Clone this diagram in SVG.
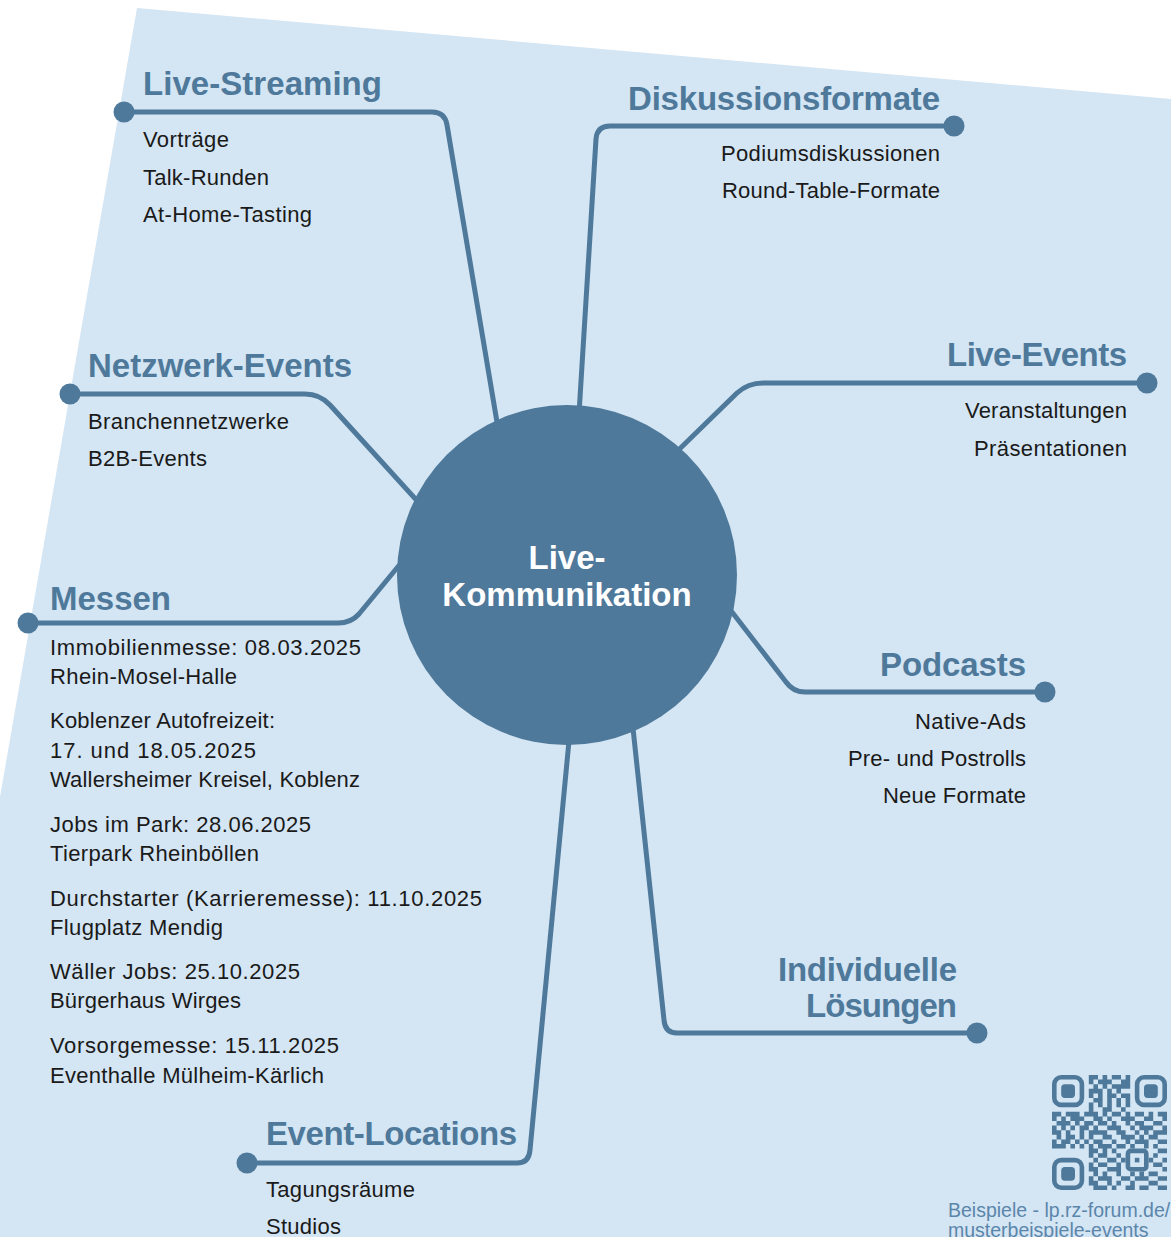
<svg xmlns="http://www.w3.org/2000/svg" width="1171" height="1237" viewBox="0 0 1171 1237">
<style>
.bg{fill:#d4e5f3}
.con{fill:none;stroke:#4e799b;stroke-width:5;stroke-linecap:round;stroke-linejoin:round}
.dot{fill:#4e799b}
.h{font-family:"Liberation Sans",Arial,sans-serif;font-weight:bold;font-size:33px;fill:#4e799b}
.t{font-family:"Liberation Sans",Arial,sans-serif;font-size:22px;fill:#1a1a1a}
.c{font-family:"Liberation Sans",Arial,sans-serif;font-weight:bold;font-size:33px;fill:#ffffff;text-anchor:middle}
.cap{font-family:"Liberation Sans",Arial,sans-serif;font-size:19.5px;fill:#5b86ab}
.qr{fill:#4e799b}
.qrs{fill:none;stroke:#4e799b;stroke-width:1}
</style>
<rect width="1171" height="1237" fill="#ffffff"/>
<path class="bg" d="M137,8 L1171,99 L1171,1237 L0,1237 L0,797 Z"/>
<g id="connectors">
<path class="con" d="M124,112 H432 Q445,112 447,125 L500,440"/>
<path class="con" d="M954,126 H610 Q597,126 596,139 L578,430"/>
<path class="con" d="M1147,383 H763 Q748,383 737,393 L660,468"/>
<path class="con" d="M70,394 H305 Q320,394 330,405 L430,515"/>
<path class="con" d="M28,623 H338 Q351,623 359,614 L420,540"/>
<path class="con" d="M1045,692 H805 Q793,692 786,682 L715,590"/>
<path class="con" d="M977,1033 H677 Q665,1033 664,1020 L630,700"/>
<path class="con" d="M247,1163 H517 Q529,1163 530,1150 L571,720"/>
<circle class="dot" cx="124" cy="112" r="10.5"/>
<circle class="dot" cx="954" cy="126" r="10.5"/>
<circle class="dot" cx="1147" cy="383" r="10.5"/>
<circle class="dot" cx="70" cy="394" r="10.5"/>
<circle class="dot" cx="28" cy="623" r="10.5"/>
<circle class="dot" cx="1045" cy="692" r="10.5"/>
<circle class="dot" cx="977" cy="1033" r="10.5"/>
<circle class="dot" cx="247" cy="1163" r="10.5"/>
</g>
<g id="center">
<circle cx="567" cy="575" r="170" fill="#4e799b"/>
<text class="c" x="567" y="569">Live-</text>
<text class="c" x="567" y="606">Kommunikation</text>
</g>
<g id="live-streaming">
<text class="h" x="143" y="95" textLength="239">Live-Streaming</text>
<text class="t" x="143" y="147" textLength="86">Vorträge</text>
<text class="t" x="143" y="185" textLength="126">Talk-Runden</text>
<text class="t" x="143" y="222" textLength="169">At-Home-Tasting</text>
</g>
<g id="diskussionsformate">
<text class="h" x="628" y="110" textLength="312">Diskussionsformate</text>
<text class="t" x="721" y="161" textLength="219">Podiumsdiskussionen</text>
<text class="t" x="722" y="198" textLength="218">Round-Table-Formate</text>
</g>
<g id="live-events">
<text class="h" x="947" y="366" textLength="180">Live-Events</text>
<text class="t" x="965" y="418" textLength="162">Veranstaltungen</text>
<text class="t" x="974" y="456" textLength="153">Präsentationen</text>
</g>
<g id="netzwerk-events">
<text class="h" x="88" y="377" textLength="264">Netzwerk-Events</text>
<text class="t" x="88" y="429" textLength="201">Branchennetzwerke</text>
<text class="t" x="88" y="466" textLength="119">B2B-Events</text>
</g>
<g id="messen">
<text class="h" x="50" y="610" textLength="121">Messen</text>
<text class="t" x="50" y="655" textLength="311">Immobilienmesse: 08.03.2025</text>
<text class="t" x="50" y="684" textLength="187">Rhein-Mosel-Halle</text>
<text class="t" x="50" y="728" textLength="225">Koblenzer Autofreizeit:</text>
<text class="t" x="50" y="758" textLength="206">17. und 18.05.2025</text>
<text class="t" x="50" y="787" textLength="310">Wallersheimer Kreisel, Koblenz</text>
<text class="t" x="50" y="832" textLength="261">Jobs im Park: 28.06.2025</text>
<text class="t" x="50" y="861" textLength="209">Tierpark Rheinböllen</text>
<text class="t" x="50" y="906" textLength="432">Durchstarter (Karrieremesse): 11.10.2025</text>
<text class="t" x="50" y="935" textLength="173">Flugplatz Mendig</text>
<text class="t" x="50" y="979" textLength="250">Wäller Jobs: 25.10.2025</text>
<text class="t" x="50" y="1008" textLength="191">Bürgerhaus Wirges</text>
<text class="t" x="50" y="1053" textLength="289">Vorsorgemesse: 15.11.2025</text>
<text class="t" x="50" y="1083" textLength="274">Eventhalle Mülheim-Kärlich</text>
</g>
<g id="podcasts">
<text class="h" x="880" y="676" textLength="146">Podcasts</text>
<text class="t" x="915" y="729" textLength="111">Native-Ads</text>
<text class="t" x="848" y="766" textLength="178">Pre- und Postrolls</text>
<text class="t" x="883" y="803" textLength="143">Neue Formate</text>
</g>
<g id="individuelle-loesungen">
<text class="h" x="778" y="981" textLength="179">Individuelle</text>
<text class="h" x="806" y="1017" textLength="151">Lösungen</text>
</g>
<g id="event-locations">
<text class="h" x="266" y="1145" textLength="251">Event-Locations</text>
<text class="t" x="266" y="1197" textLength="149">Tagungsräume</text>
<text class="t" x="266" y="1234" textLength="75">Studios</text>
</g>
<g id="qr" transform="translate(1052,1075) scale(4.6)">
<rect class="qrs" x="0.5" y="0.5" width="6" height="6" rx="1.5"/>
<rect class="qr" x="2" y="2" width="3" height="3" rx="0.8"/>
<rect class="qrs" x="18.5" y="0.5" width="6" height="6" rx="1.5"/>
<rect class="qr" x="20" y="2" width="3" height="3" rx="0.8"/>
<rect class="qrs" x="0.5" y="18.5" width="6" height="6" rx="1.5"/>
<rect class="qr" x="2" y="20" width="3" height="3" rx="0.8"/>
<rect class="qrs" x="16.5" y="16.5" width="4" height="4" rx="0.6"/>
<rect class="qr" x="18" y="18" width="1" height="1"/>
<path class="qr" d="M8 0h2v1h-2z M11 0h1v1h-1z M13 0h2v1h-2z M16 0h1v1h-1z
M8 1h1v1h-1z M10 1h3v1h-3z M15 1h2v1h-2z
M9 2h1v1h-1z M11 2h1v1h-1z M13 2h4v1h-4z
M8 3h3v1h-3z M12 3h1v1h-1z M14 3h1v1h-1z
M8 4h1v1h-1z M10 4h1v1h-1z M12 4h2v1h-2z M15 4h2v1h-2z
M9 5h2v1h-2z M12 5h1v1h-1z M14 5h1v1h-1z M16 5h1v1h-1z
M8 6h1v1h-1z M10 6h1v1h-1z M12 6h1v1h-1z M14 6h1v1h-1z M16 6h1v1h-1z
M8 7h1v1h-1z M11 7h2v1h-2z M15 7h1v1h-1z
M0 8h2v1h-2z M3 8h3v1h-3z M7 8h3v1h-3z M11 8h1v1h-1z M13 8h2v1h-2z M16 8h1v1h-1z M18 8h2v1h-2z M21 8h1v1h-1z M23 8h2v1h-2z
M0 9h1v1h-1z M2 9h1v1h-1z M4 9h3v1h-3z M9 9h2v1h-2z M12 9h1v1h-1z M15 9h3v1h-3z M20 9h2v1h-2z M24 9h1v1h-1z
M1 10h3v1h-3z M5 10h1v1h-1z M7 10h2v1h-2z M10 10h2v1h-2z M13 10h1v1h-1z M16 10h1v1h-1z M18 10h2v1h-2z M22 10h2v1h-2z
M0 11h1v1h-1z M2 11h1v1h-1z M4 11h1v1h-1z M6 11h2v1h-2z M9 11h1v1h-1z M12 11h3v1h-3z M17 11h1v1h-1z M19 11h3v1h-3z M24 11h1v1h-1z
M0 12h2v1h-2z M3 12h1v1h-1z M6 12h1v1h-1z M8 12h4v1h-4z M14 12h2v1h-2z M18 12h1v1h-1z M20 12h1v1h-1z M22 12h3v1h-3z
M1 13h1v1h-1z M3 13h2v1h-2z M6 13h1v1h-1z M8 13h1v1h-1z M11 13h2v1h-2z M15 13h3v1h-3z M19 13h1v1h-1z M21 13h2v1h-2z
M0 14h1v1h-1z M2 14h2v1h-2z M5 14h1v1h-1z M7 14h1v1h-1z M9 14h2v1h-2z M13 14h1v1h-1z M16 14h1v1h-1z M18 14h3v1h-3z M23 14h2v1h-2z
M0 15h3v1h-3z M4 15h1v1h-1z M6 15h1v1h-1z M8 15h1v1h-1z M10 15h3v1h-3z M14 15h2v1h-2z M17 15h1v1h-1z M20 15h1v1h-1z M22 15h1v1h-1z
M8 16h2v1h-2z M11 16h1v1h-1z M13 16h1v1h-1z M23 16h2v1h-2z
M8 17h1v1h-1z M10 17h2v1h-2z M14 17h1v1h-1z M22 17h1v1h-1z
M9 18h1v1h-1z M12 18h2v1h-2z M15 18h1v1h-1z M21 18h1v1h-1z M24 18h1v1h-1z
M8 19h1v1h-1z M10 19h2v1h-2z M14 19h1v1h-1z M22 19h2v1h-2z
M8 20h2v1h-2z M12 20h3v1h-3z M24 20h1v1h-1z
M9 21h1v1h-1z M11 21h1v1h-1z M14 21h1v1h-1z M17 21h1v1h-1z M19 21h1v1h-1z M21 21h2v1h-2z
M8 22h1v1h-1z M10 22h3v1h-3z M15 22h2v1h-2z M18 22h3v1h-3z M23 22h2v1h-2z
M8 23h2v1h-2z M12 23h1v1h-1z M14 23h1v1h-1z M17 23h1v1h-1z M21 23h2v1h-2z
M9 24h3v1h-3z M13 24h1v1h-1z M16 24h2v1h-2z M19 24h2v1h-2z M23 24h2v1h-2z"/>
</g>
<g id="caption">
<text class="cap" x="948" y="1217">Beispiele - lp.rz-forum.de/</text>
<text class="cap" x="948" y="1237">musterbeispiele-events</text>
</g>
</svg>
